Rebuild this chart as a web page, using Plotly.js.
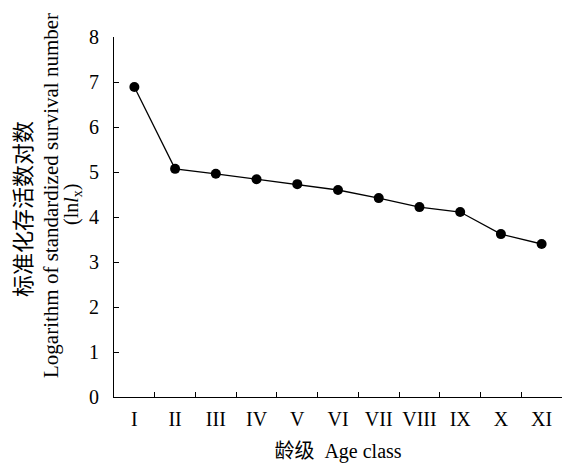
<!DOCTYPE html>
<html><head><meta charset="utf-8">
<script src="https://cdn.plot.ly/plotly-3.0.1.min.js"></script>
<style>html,body{margin:0;padding:0;background:#fff}</style>
</head><body><div id="chart" style="width:563px;height:464px"></div>
<script>
const ageClasses = ["I","II","III","IV","V","VI","VII","VIII","IX","X","XI"];
const lnLx = [6.89, 5.07, 4.96, 4.84, 4.73, 4.6, 4.42, 4.22, 4.11, 3.62, 3.4];
const yTicks = [0,1,2,3,4,5,6,7,8];
const yTitleLines = ["标准化存活数对数", "Logarithm of standardized survival number", "(ln<i>l</i><sub>x</sub>)"];

const serif = "Liberation Serif, Times New Roman, Noto Sans CJK SC, serif";
const L = 114, T = 37, W = 448, H = 360;
const px = v => (v - L) / W;
const py = v => (T + H - v) / H;

const trace = {
  x: ageClasses, y: lnLx, type: "scatter", mode: "lines+markers",
  line: {color: "#000", width: 1.3},
  marker: {color: "#000", size: 10},
  cliponaxis: false
};
const titlePos = [[23, 209, 22], [51, 196, 21], [72, 205, 20]];
const annotations = yTitleLines.map((t, i) => ({
  text: t, xref: "paper", yref: "paper",
  x: px(titlePos[i][0]), y: py(titlePos[i][1]),
  xanchor: "center", yanchor: "middle", textangle: -90, showarrow: false,
  font: {family: serif, size: titlePos[i][2], color: "#000"}
}));
const layout = {
  width: 563, height: 464,
  margin: {l: L, r: 563 - L - W, t: T, b: 464 - T - H},
  paper_bgcolor: "#fff", plot_bgcolor: "#fff",
  showlegend: false,
  font: {family: serif, color: "#000", size: 20},
  annotations: annotations,
  xaxis: {
    type: "category", range: [-0.5, 10.5], tickson: "boundaries",
    ticks: "inside", ticklen: 5, tickcolor: "#000", tickwidth: 1,
    showline: true, linecolor: "#000", linewidth: 1, showgrid: false, zeroline: false,
    tickangle: 0, tickfont: {family: serif, size: 20}, ticklabelstandoff: 4,
    title: {text: "龄级\u00a0\u00a0Age class", font: {family: serif, size: 20}, standoff: 14}
  },
  yaxis: {
    range: [0, 8], tickvals: yTicks, ticktext: yTicks.map(String),
    ticks: "inside", ticklen: 5, tickcolor: "#000", tickwidth: 1,
    showline: true, linecolor: "#000", linewidth: 1, showgrid: false, zeroline: false,
    tickfont: {family: serif, size: 20}, ticklabelstandoff: 10
  }
};
Plotly.newPlot("chart", [trace], layout, {displayModeBar: false, staticPlot: true});
</script></body></html>
